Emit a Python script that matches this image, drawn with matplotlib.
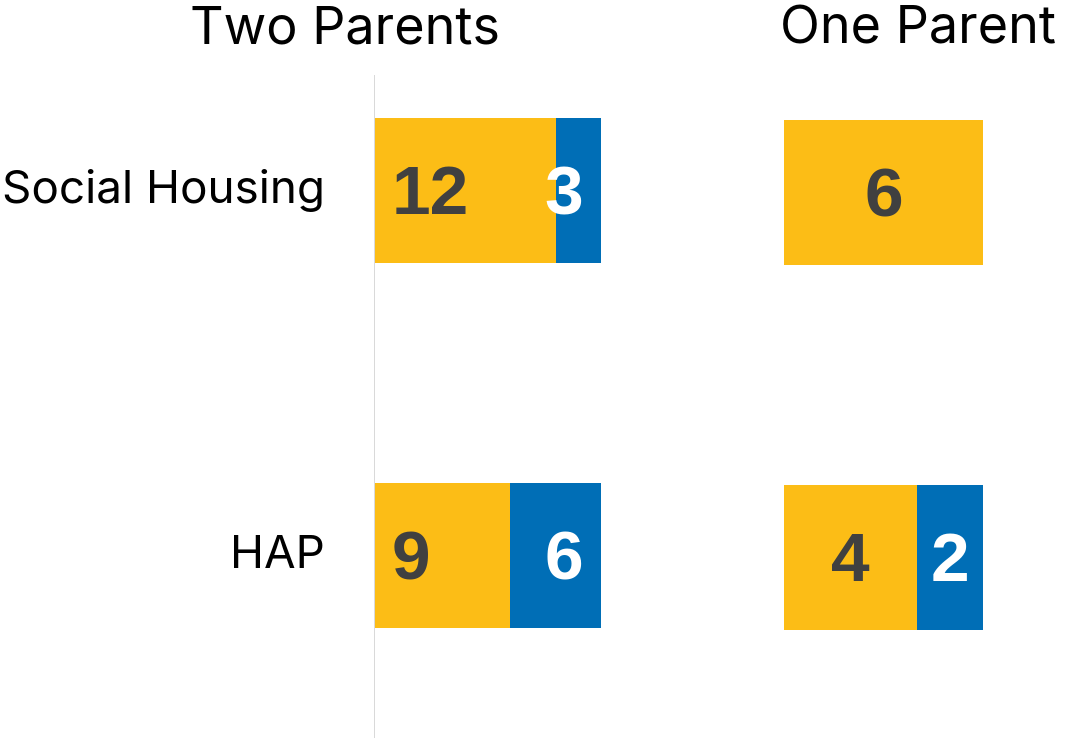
import matplotlib
matplotlib.use("Agg")
import matplotlib.pyplot as plt

categories = ["Social Housing", "HAP"]
panel_titles = ["Two Parents", "One Parent"]
two_parents_a = [12, 9]
two_parents_b = [3, 6]
one_parent_a = [6, 4]
one_parent_b = [0, 2]

YELLOW = "#FCBD16"
BLUE = "#006EB6"
DARK = "#404040"

W, H = 1066, 738
fig = plt.figure(figsize=(W / 100, H / 100), dpi=100)
PX = 72 / 100  # points per pixel


def px_axes(left, top, width, height):
    return fig.add_axes([left / W, 1 - (top + height) / H, width / W, height / H])


def setup(ax, xmax):
    ax.set_xlim(0, xmax)
    ax.set_ylim(1.5, -0.316)
    for s in ax.spines.values():
        s.set_visible(False)
    ax.set_xticks([])
    ax.set_yticks([])
    ax.patch.set_alpha(0)


ax1 = px_axes(374, 75, 227, 663)
ax2 = px_axes(784, 77, 199, 663)
setup(ax1, 15)
setup(ax2, 6)

ypos = list(range(len(categories)))
bh = 0.397
lab_font = dict(family=["Liberation Sans", "DejaVu Sans"], fontweight="bold", fontsize=50)
LAB_DY = -24 * PX

# Panel 1
ax1.barh(ypos, two_parents_a, height=bh, color=YELLOW, linewidth=0)
ax1.barh(ypos, two_parents_b, left=two_parents_a, height=bh, color=BLUE, linewidth=0)
ax1.axvline(0, color="#D9D9D9", linewidth=2 * PX, ymin=0, ymax=1)
for y, a, b in zip(ypos, two_parents_a, two_parents_b):
    if a:
        ax1.annotate(str(a), (0, y), xytext=(18 * PX, LAB_DY), textcoords="offset points",
                     ha="left", va="baseline", color=DARK, **lab_font)
    if b:
        ax1.annotate(str(b), (a + b, y), xytext=(-18 * PX, LAB_DY), textcoords="offset points",
                     ha="right", va="baseline", color="white", **lab_font)

# Panel 2
ax2.barh(ypos, one_parent_a, height=bh, color=YELLOW, linewidth=0)
ax2.barh(ypos, one_parent_b, left=one_parent_a, height=bh, color=BLUE, linewidth=0)
for y, a, b in zip(ypos, one_parent_a, one_parent_b):
    if a:
        ax2.annotate(str(a), (a / 2, y), xytext=(0, LAB_DY), textcoords="offset points",
                     ha="center", va="baseline", color=DARK, **lab_font)
    if b:
        ax2.annotate(str(b), (a + b / 2, y), xytext=(0, LAB_DY), textcoords="offset points",
                     ha="center", va="baseline", color="white", **lab_font)

# Category labels
cat_font = dict(family=["Inter", "DejaVu Sans"], fontsize=33)
for y, c in zip(ypos, categories):
    ax1.annotate(c, (0, y), xytext=(-49 * PX, -13 * PX), textcoords="offset points",
                 ha="right", va="baseline", color="black", **cat_font)

# Titles
title_font = dict(family=["Inter", "DejaVu Sans"], fontsize=37.5)
fig.text(345 / W, 1 - 43 / H, panel_titles[0], ha="center", va="baseline", **title_font)
fig.text(918 / W, 1 - 43 / H, panel_titles[1], ha="center", va="baseline", **title_font)

fig.savefig("out.png", dpi=100, facecolor="white")
